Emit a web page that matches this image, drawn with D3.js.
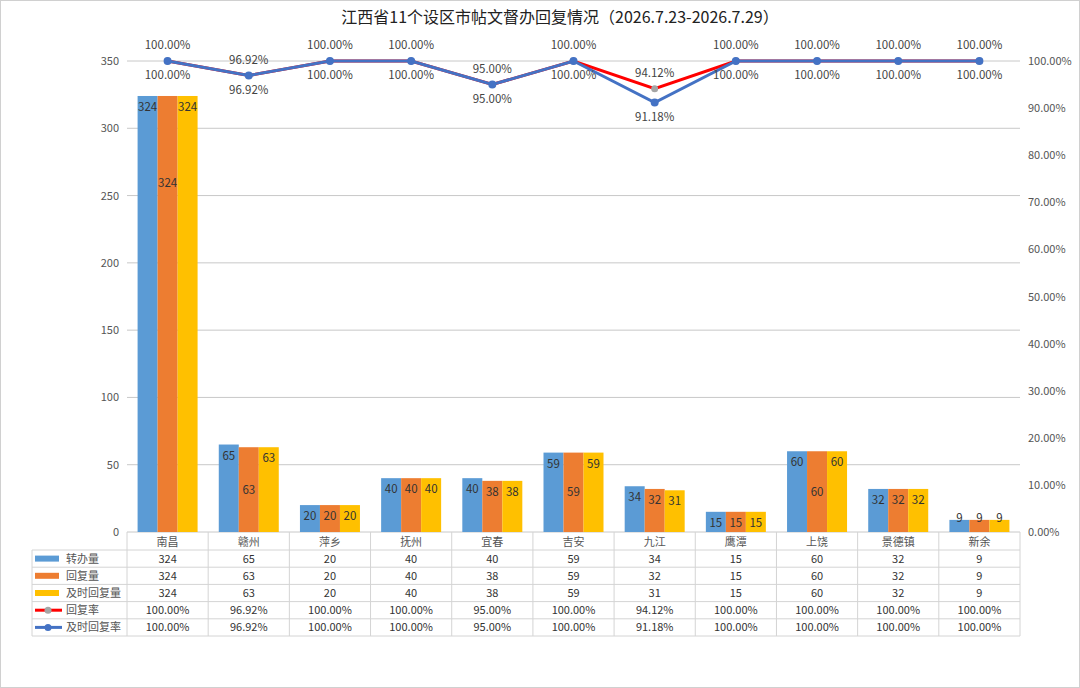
<!DOCTYPE html>
<html><head><meta charset="utf-8">
<script src="https://cdn.jsdelivr.net/npm/d3@7/dist/d3.min.js"></script>
<style>body{margin:0;background:#fff}text{font-family:"Noto Sans CJK SC","Noto Sans",sans-serif}</style>
</head><body><svg id="c" width="1080" height="688"></svg>
<script>
const cities = ["南昌","赣州","萍乡","抚州","宜春","吉安","九江","鹰潭","上饶","景德镇","新余"];
const transferred = [324,65,20,40,40,59,34,15,60,32,9];
const replied = [324,63,20,40,38,59,32,15,60,32,9];
const timely = [324,63,20,40,38,59,31,15,60,32,9];
const replyRate = [100,96.92,100,100,95,100,94.12,100,100,100,100];
const timelyRate = [100,96.92,100,100,95,100,91.18,100,100,100,100];
const leftTicks = [0,50,100,150,200,250,300,350];
const rightTicks = [0,10,20,30,40,50,60,70,80,90,100];

const svg = d3.select("#c");
svg.append("rect").attr("x",0.5).attr("y",0.5).attr("width",1079).attr("height",687).attr("fill","none").attr("stroke","#d0d0d0");
svg.append("text").attr("x",560).attr("y",23).attr("text-anchor","middle").attr("font-size",16)
  .attr("font-family","'Noto Serif CJK SC','Noto Sans CJK SC',serif").attr("fill","#222")
  .text("江西省11个设区市帖文督办回复情况（2026.7.23-2026.7.29）");

const L=127,R=1020,T=61,B=532;
const x = d3.scaleBand().domain(cities).range([L,R]);
const y = d3.scaleLinear().domain([0,350]).range([B,T]);
const yr = d3.scaleLinear().domain([0,100]).range([B,T]);

svg.append("g").selectAll("line").data(leftTicks).join("line")
  .attr("x1",L).attr("x2",R).attr("y1",d=>y(d)).attr("y2",d=>y(d)).attr("stroke","#c8c8c8");
svg.append("g").selectAll("text").data(leftTicks).join("text")
  .attr("x",L-8).attr("y",d=>y(d)+4).attr("text-anchor","end").attr("font-size",11).attr("fill","#555").text(d=>d);
svg.append("g").selectAll("text").data(rightTicks).join("text")
  .attr("x",R+8).attr("y",d=>yr(d)+4).attr("font-size",11).attr("fill","#555").text(d=>d.toFixed(2)+"%");

const series=[{name:"转办量",v:transferred,c:"#5b9bd5",pos:"top"},{name:"回复量",v:replied,c:"#ed7d31",pos:"mid"},{name:"及时回复量",v:timely,c:"#ffc000",pos:"top"}];
const bw=20;
series.forEach((s,si)=>{
  const g=svg.append("g");
  const bx=(i)=>x(cities[i])+x.bandwidth()/2-30+si*bw;
  g.selectAll("rect").data(s.v).join("rect")
    .attr("x",(d,i)=>bx(i)).attr("width",bw).attr("y",d=>y(d)).attr("height",d=>B-y(d)).attr("fill",s.c);
  g.selectAll("text").data(s.v).join("text")
    .attr("x",(d,i)=>bx(i)+bw/2)
    .attr("y",d=>d<12?y(d)+2:(s.pos==="mid"&&d>50?(d>300?y(d)+91:(y(d)+B)/2+4):y(d)+15))
    .attr("text-anchor","middle").attr("font-size",11.5).attr("fill","#333").text(d=>d);
});

const cx=(i)=>x(cities[i])+x.bandwidth()/2;
const line=d3.line().x((d,i)=>cx(i)).y(d=>yr(d));
svg.append("path").attr("d",line(replyRate)).attr("fill","none").attr("stroke","#ff0000").attr("stroke-width",3);
svg.append("g").selectAll("circle").data(replyRate).join("circle").attr("cx",(d,i)=>cx(i)).attr("cy",d=>yr(d)).attr("r",3.5).attr("fill","#a5a5a5");
svg.append("path").attr("d",line(timelyRate)).attr("fill","none").attr("stroke","#4472c4").attr("stroke-width",3);
svg.append("g").selectAll("circle").data(timelyRate).join("circle").attr("cx",(d,i)=>cx(i)).attr("cy",d=>yr(d)).attr("r",4).attr("fill","#4472c4");
svg.append("g").selectAll("text").data(replyRate).join("text").attr("x",(d,i)=>cx(i)).attr("y",d=>yr(d)-12)
  .attr("text-anchor","middle").attr("font-size",11.5).attr("fill","#444").text(d=>d.toFixed(2)+"%");
svg.append("g").selectAll("text").data(timelyRate).join("text").attr("x",(d,i)=>cx(i)).attr("y",d=>yr(d)+18)
  .attr("text-anchor","middle").attr("font-size",11.5).attr("fill","#444").text(d=>d.toFixed(2)+"%");

// data table
const rows=[
  {name:"转办量",vals:transferred.map(String),key:{type:"bar",c:"#5b9bd5"}},
  {name:"回复量",vals:replied.map(String),key:{type:"bar",c:"#ed7d31"}},
  {name:"及时回复量",vals:timely.map(String),key:{type:"bar",c:"#ffc000"}},
  {name:"回复率",vals:replyRate.map(d=>d.toFixed(2)+"%"),key:{type:"line",c:"#ff0000",m:"#a5a5a5"}},
  {name:"及时回复率",vals:timelyRate.map(d=>d.toFixed(2)+"%"),key:{type:"line",c:"#4472c4",m:"#4472c4"}}];
const TL=32,rh=17.2,hy=B+18;
const tg=svg.append("g").attr("stroke","#d4d4d4");
tg.append("line").attr("x1",L).attr("x2",L).attr("y1",B).attr("y2",hy+rows.length*rh);
cities.forEach((c,i)=>tg.append("line").attr("x1",x(c)+x.bandwidth()).attr("x2",x(c)+x.bandwidth()).attr("y1",B).attr("y2",hy+rows.length*rh));
tg.append("line").attr("x1",TL).attr("x2",TL).attr("y1",hy).attr("y2",hy+rows.length*rh);
for(let k=0;k<=rows.length;k++) tg.append("line").attr("x1",TL).attr("x2",R).attr("y1",hy+k*rh).attr("y2",hy+k*rh);
svg.append("g").selectAll("text").data(cities).join("text").attr("x",c=>x(c)+x.bandwidth()/2).attr("y",B+14)
  .attr("text-anchor","middle").attr("font-size",11).attr("fill","#555").text(d=>d);
rows.forEach((r,k)=>{
  const ry=hy+k*rh+rh/2;
  if(r.key.type==="bar") svg.append("rect").attr("x",TL+3).attr("y",ry-3).attr("width",24).attr("height",6).attr("fill",r.key.c);
  else{svg.append("line").attr("x1",TL+3).attr("x2",TL+30).attr("y1",ry).attr("y2",ry).attr("stroke",r.key.c).attr("stroke-width",3);
    svg.append("circle").attr("cx",TL+16).attr("cy",ry).attr("r",3.5).attr("fill",r.key.m);}
  svg.append("text").attr("x",TL+34).attr("y",ry+4).attr("font-size",11).attr("fill","#555").text(r.name);
  svg.append("g").selectAll("text").data(r.vals).join("text").attr("x",(d,i)=>cx(i)).attr("y",ry+4)
    .attr("text-anchor","middle").attr("font-size",11).attr("fill","#333").text(d=>d);
});
</script></body></html>
